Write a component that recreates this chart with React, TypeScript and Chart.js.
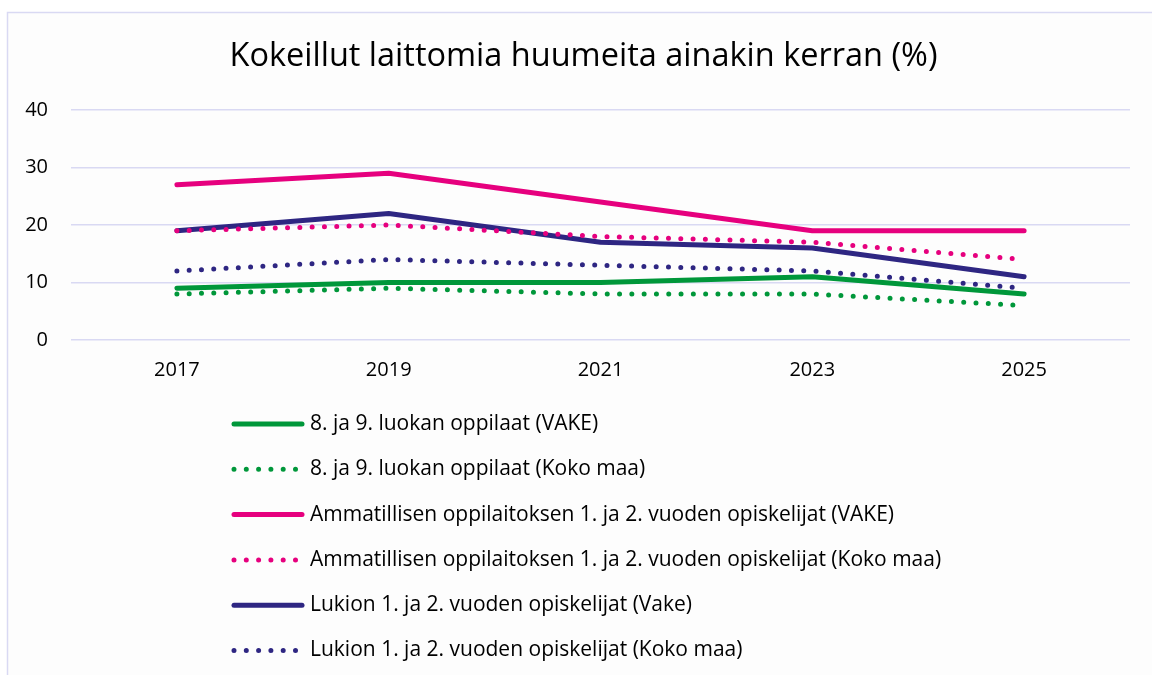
import React, { useEffect, useRef } from "react";
import { Chart, registerables } from "chart.js";

Chart.register(...registerables);

const TITLE = "Kokeillut laittomia huumeita ainakin kerran (%)";
const YEARS = ["2017", "2019", "2021", "2023", "2025"];
const Y_TICKS = [0, 10, 20, 30, 40];

const PERUS_VAKE = [9, 10, 10, 11, 8];
const PERUS_KOKO = [8, 9, 8, 8, 6];
const AMIS_VAKE = [27, 29, 24, 19, 19];
const AMIS_KOKO = [19, 20, 18, 17, 14];
const LUKIO_VAKE = [19, 22, 17, 16, 11];
const LUKIO_KOKO = [12, 14, 13, 12, 9];

const LABELS = [
  "8. ja 9. luokan oppilaat (VAKE)",
  "8. ja 9. luokan oppilaat (Koko maa)",
  "Ammatillisen oppilaitoksen 1. ja 2. vuoden opiskelijat (VAKE)",
  "Ammatillisen oppilaitoksen 1. ja 2. vuoden opiskelijat (Koko maa)",
  "Lukion 1. ja 2. vuoden opiskelijat (Vake)",
  "Lukion 1. ja 2. vuoden opiskelijat (Koko maa)",
];

const GREEN = "#00973A";
const PINK = "#E6007E";
const NAVY = "#2E2682";
const GRID = "#D9D9F3";
const FONT = "'Open Sans', sans-serif";

const SERIES = [
  { data: PERUS_VAKE, color: GREEN, dotted: false },
  { data: PERUS_KOKO, color: GREEN, dotted: true },
  { data: AMIS_VAKE, color: PINK, dotted: false },
  { data: AMIS_KOKO, color: PINK, dotted: true },
  { data: LUKIO_VAKE, color: NAVY, dotted: false },
  { data: LUKIO_KOKO, color: NAVY, dotted: true },
];

const framePlugin = {
  id: "frame",
  beforeDraw(chart: any) {
    const ctx = chart.ctx;
    ctx.save();
    ctx.fillStyle = "#FDFDFD";
    ctx.fillRect(7, 12, chart.width, chart.height);
    ctx.strokeStyle = GRID;
    ctx.lineWidth = 1.5;
    ctx.beginPath();
    ctx.moveTo(7.5, chart.height + 5);
    ctx.lineTo(7.5, 12.5);
    ctx.lineTo(chart.width + 5, 12.5);
    ctx.stroke();
    ctx.restore();
  },
};

const titleLegendPlugin = {
  id: "titleLegend",
  afterDraw(chart: any) {
    const ctx = chart.ctx;
    ctx.save();
    ctx.fillStyle = "#000";
    ctx.font = "32.5px " + FONT;
    ctx.textBaseline = "middle";
    ctx.textAlign = "center";
    ctx.fillText(TITLE, 583.5, 57);

    chart.data.datasets.forEach((ds: any, i: number) => {
      const y = 424 + i * 45.3;
      ctx.strokeStyle = ds.borderColor;
      ctx.lineWidth = 5;
      ctx.lineCap = "round";
      const dotted = ds.borderDash && ds.borderDash.length;
      ctx.setLineDash(dotted ? ds.borderDash : []);
      ctx.beginPath();
      ctx.moveTo(234, y);
      ctx.lineTo(dotted ? 298 : 302, y);
      ctx.stroke();
      ctx.setLineDash([]);
      ctx.fillStyle = "#000";
      ctx.font = "21px " + FONT;
      ctx.textBaseline = "middle";
      ctx.textAlign = "left";
      ctx.fillText(ds.label, 310, y);
    });
    ctx.restore();
  },
};

export default function App() {
  const ref = useRef<HTMLCanvasElement | null>(null);

  useEffect(() => {
    document.body.style.margin = "0";
    const canvas = ref.current;
    if (!canvas) return;
    const chart = new Chart(canvas, {
      type: "line",
      data: {
        labels: YEARS,
        datasets: SERIES.map((s, i) => ({
          label: LABELS[i],
          data: s.data,
          borderColor: s.color,
          backgroundColor: s.color,
          borderWidth: 5,
          borderDash: s.dotted ? [0, 12.3] : [],
          borderCapStyle: "round",
          borderJoinStyle: "round",
          pointRadius: 0,
          pointHoverRadius: 0,
          tension: 0,
          fill: false,
        })),
      },
      options: {
        animation: false,
        responsive: false,
        maintainAspectRatio: false,
        layout: { padding: { top: 110, right: 22, bottom: 275, left: 0 } },
        plugins: {
          legend: { display: false },
          tooltip: { enabled: false },
          title: { display: false },
        },
        scales: {
          x: {
            offset: true,
            grid: { display: false, drawTicks: false },
            border: { display: false },
            ticks: {
              color: "#000",
              font: { family: FONT, size: 20 },
              padding: 18,
              maxRotation: 0,
            },
            afterFit(scale: any) {
              scale.height = 60;
            },
          },
          y: {
            min: 0,
            max: 40,
            afterBuildTicks(scale: any) {
              scale.ticks = Y_TICKS.map((v) => ({ value: v }));
            },
            grid: { color: GRID, lineWidth: 1.5, drawTicks: false },
            border: { display: false },
            ticks: {
              color: "#000",
              font: { family: FONT, size: 20 },
              padding: 23,
            },
            afterFit(scale: any) {
              scale.width = 71;
            },
          },
        },
      },
      plugins: [framePlugin, titleLegendPlugin],
    } as any);
    return () => chart.destroy();
  }, []);

  return (
    <div style={{ position: "relative", width: 1152, height: 675 }}>
      <canvas ref={ref} width={1152} height={675} style={{ display: "block" }} />
    </div>
  );
}
